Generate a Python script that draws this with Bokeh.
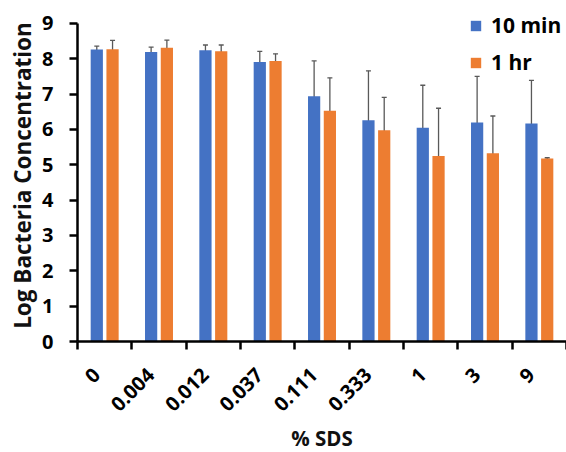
import math
from bokeh.plotting import figure
from bokeh.models import (ColumnDataSource, Whisker, TeeHead, FixedTicker, Legend,
                          LegendItem, Range1d, Title)
from bokeh.embed import file_html
from bokeh.resources import INLINE

categories = ["0", "0.004", "0.012", "0.037", "0.111", "0.333", "1", "3", "9"]
series_names = ["10 min", "1 hr"]
min10 = [8.26, 8.19, 8.24, 7.91, 6.94, 6.26, 6.05, 6.20, 6.17]
min10_err = [0.10, 0.14, 0.15, 0.30, 1.00, 1.40, 1.20, 1.30, 1.22]
hr1 = [8.27, 8.31, 8.21, 7.94, 6.53, 5.98, 5.25, 5.33, 5.18]
hr1_err = [0.25, 0.22, 0.18, 0.20, 0.93, 0.93, 1.35, 1.05, 0.02]
y_ticks = [0, 1, 2, 3, 4, 5, 6, 7, 8, 9]
x_title = "% SDS"
y_title = "Log Bacteria Concentration"

FONT = "Open Sans"
BLUE = "#4472C4"
ORANGE = "#ED7D31"

n = len(categories)
centers = [i + 0.5 for i in range(n)]
off = 0.145
bw = 0.225
label_shift = 0.15

src1 = ColumnDataSource(dict(x=[c - off for c in centers], top=min10,
                             upper=[v + e for v, e in zip(min10, min10_err)],
                             lower=[v - e for v, e in zip(min10, min10_err)]))
src2 = ColumnDataSource(dict(x=[c + off for c in centers], top=hr1,
                             upper=[v + e for v, e in zip(hr1, hr1_err)],
                             lower=[v - e for v, e in zip(hr1, hr1_err)]))

p = figure(width=566, height=452, output_backend="svg", toolbar_location=None,
           x_range=Range1d(0, n), y_range=Range1d(0, 9.394),
           min_border_left=77, min_border_right=0, min_border_top=9, min_border_bottom=109)
p.outline_line_color = None
p.xgrid.visible = False
p.ygrid.visible = False

r1 = p.vbar(x="x", top="top", width=bw, source=src1, fill_color=BLUE, line_color=None)
r2 = p.vbar(x="x", top="top", width=bw, source=src2, fill_color=ORANGE, line_color=None)

for src in (src1, src2):
    w = Whisker(base="x", upper="upper", lower="lower", source=src,
                line_color="#595959", line_width=1.3,
                upper_head=TeeHead(size=5, line_color="#595959", line_width=1.3),
                lower_head=TeeHead(size=5, line_color="#595959", line_width=1.3))
    p.add_layout(w)

# y axis
ya = p.yaxis[0]
ya.ticker = FixedTicker(ticks=y_ticks)
ya.bounds = (0, 9)
ya.axis_line_width = 2.5
ya.axis_line_color = "black"
ya.major_tick_line_width = 2.5
ya.major_tick_line_color = "black"
ya.major_tick_out = 8
ya.major_tick_in = 0
ya.minor_tick_line_color = None
ya.major_label_text_font = FONT
ya.major_label_text_font_style = "bold"
ya.major_label_text_font_size = "20px"
ya.major_label_text_color = "black"
ya.major_label_standoff = 16

# x axis
xa = p.xaxis[0]
label_pos = [c - label_shift for c in centers]
xa.ticker = FixedTicker(ticks=label_pos, minor_ticks=list(range(n + 1)))
xa.major_label_overrides = {c: lab for c, lab in zip(label_pos, categories)}
xa.axis_line_width = 2.5
xa.axis_line_color = "black"
xa.major_tick_line_color = None
xa.minor_tick_line_color = "black"
xa.minor_tick_line_width = 2.5
xa.minor_tick_out = 8
xa.minor_tick_in = 0
xa.major_label_orientation = math.pi / 4
xa.major_label_text_font = FONT
xa.major_label_text_font_style = "bold"
xa.major_label_text_font_size = "20px"
xa.major_label_text_color = "black"
xa.major_label_standoff = 22

# axis titles
p.add_layout(Title(text=x_title, align="center", standoff=2,
                   text_font=FONT, text_font_style="bold", text_font_size="20.5px",
                   text_color="#111111"), "below")
p.add_layout(Title(text=y_title, align="center", offset=-20, standoff=4,
                   text_font=FONT, text_font_style="bold", text_font_size="22.5px",
                   text_color="#111111"), "left")

legend = Legend(items=[LegendItem(label=series_names[0], renderers=[r1]),
                       LegendItem(label=series_names[1], renderers=[r2])],
                location=(392, 265), orientation="vertical",
                padding=0, margin=0, spacing=9, label_standoff=9,
                glyph_width=13, glyph_height=13, label_height=28,
                label_text_font=FONT, label_text_font_style="bold",
                label_text_font_size="21px", label_text_color="black",
                background_fill_alpha=0, border_line_color=None)
p.add_layout(legend, "center")

open("out.html", "w").write(file_html(p, INLINE))
